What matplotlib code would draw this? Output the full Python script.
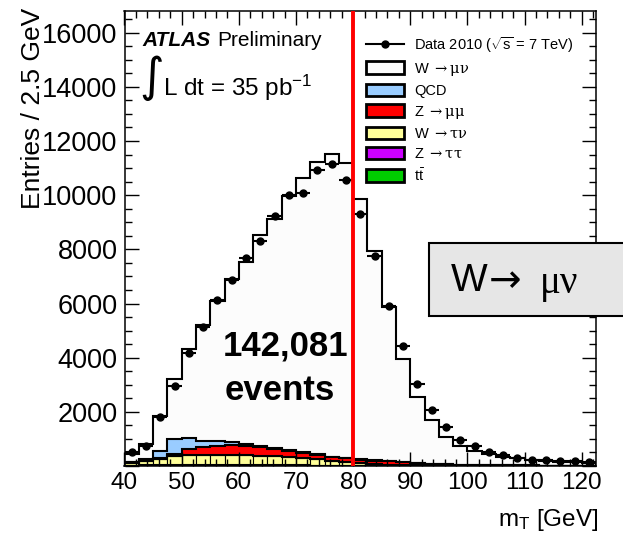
import numpy as np
import matplotlib
matplotlib.use('Agg')
import matplotlib.pyplot as plt
from matplotlib.patches import Patch, Rectangle
from matplotlib.lines import Line2D
from matplotlib.ticker import MultipleLocator

plt.rcParams['font.family'] = ['Liberation Sans', 'DejaVu Sans']
plt.rcParams['mathtext.fontset'] = 'custom'
plt.rcParams['mathtext.rm'] = 'DejaVu Serif'
plt.rcParams['mathtext.sf'] = 'Liberation Sans'
plt.rcParams['mathtext.default'] = 'rm'

# 2.5 GeV bins, 40 -> 122.5 GeV
bin_low = 40.0
bin_width = 2.5

data = [500, 750, 1816, 2958, 4187, 5144, 6126, 6862, 7685, 8298, 9244,
        10018, 10080, 10913, 11149, 10570, 9318, 7771, 5904, 4431, 3020,
        2050, 1425, 969, 730, 504, 420, 310, 240, 230, 200, 185, 136]
w_munu = [270, 540, 1289, 2236, 3278, 4260, 5180, 6042, 6714, 7760, 8442,
          9365, 10127, 10767, 11152, 10880, 9620, 7743, 5688, 3793, 2413,
          1620, 994, 702, 522, 398, 313, 259, 212, 175, 148, 120, 102]
qcd = [25, 50, 276, 560, 405, 222, 160, 98, 62, 59, 54, 50, 39, 35, 30, 22,
       18, 12, 10, 8, 6, 5, 4, 3, 3, 2, 2, 2, 1, 1, 1, 1, 1]
z_mumu = [20, 25, 30, 50, 225, 300, 340, 365, 355, 310, 265, 210, 175, 165,
          130, 140, 130, 130, 125, 110, 90, 65, 50, 38, 28, 24, 20, 16, 14,
          12, 10, 8, 6]
w_taunu = [100, 160, 230, 350, 365, 375, 375, 375, 365, 355, 335, 305, 270,
           225, 175, 125, 90, 60, 40, 28, 18, 14, 9, 7, 6, 4, 3, 2, 2, 1, 1,
           1, 1]
z_tautau = [15, 20, 25, 30, 30, 30, 28, 26, 24, 22, 20, 18, 15, 12, 10, 8, 6,
            5, 4, 3, 3, 2, 2, 2, 1, 1, 1, 1, 1, 1, 1, 1, 0]
ttbar = [2, 2, 3, 3, 4, 4, 5, 5, 5, 5, 5, 5, 5, 5, 5, 5, 5, 5, 4, 4, 4, 4, 4,
         3, 3, 3, 3, 3, 2, 2, 2, 2, 2]
mt_cut = 80

labels = [r'Data 2010 ($\sqrt{\mathsf{s}}$ = 7 TeV)', r'W $\rightarrow \mu\nu$',
          'QCD', r'Z $\rightarrow \mu\mu$', r'W $\rightarrow \tau\nu$',
          r'Z $\rightarrow \tau\tau$', r'$\mathsf{t\bar{t}}$']

n_bins = len(data)
edges = bin_low + bin_width * np.arange(n_bins + 1)
centers = 0.5 * (edges[:-1] + edges[1:])

# stack order bottom -> top
stack = [ttbar, z_tautau, w_taunu, z_mumu, qcd, w_munu]
colors = ['#00cc00', '#cc00ff', '#ffff99', '#ff0000', '#99ccff', '#fcfcfc']
cumul = np.cumsum(np.array(stack, dtype=float), axis=0)

W, H = 623, 537
def fx(x):
    return x / W
def fy(y):
    return 1 - y / H

fig = plt.figure(figsize=(W / 100, H / 100), dpi=100)
ax = fig.add_axes([fx(124.5), fy(466), (596 - 124.5) / W, (466 - 11) / H])

# ROOT-like stack: biggest cumulative first, each drawn from zero
for i in range(len(stack) - 1, -1, -1):
    if i == 2:
        ax.bar(centers, cumul[i], width=bin_width, color=colors[i],
               edgecolor='k', lw=0.8)
    else:
        ax.stairs(cumul[i], edges, baseline=0, fill=True,
                  facecolor=colors[i], edgecolor='none')
    ax.stairs(cumul[i], edges, baseline=0, color='k', lw=1.5)

ax.errorbar(centers, data, xerr=bin_width / 2, yerr=np.sqrt(data), fmt='o',
            color='k', ms=5, elinewidth=1.5, capsize=0, zorder=5)
ax.axvline(mt_cut, color='red', lw=2.8, zorder=6)

ax.set_xlim(edges[0], edges[-1])
ax.set_ylim(0, 16800)
ax.set_xticks(np.arange(40, 121, 10))
ax.xaxis.set_minor_locator(MultipleLocator(2))
yt = np.arange(0, 16001, 2000)
ax.set_yticks(yt)
ax.set_yticklabels([''] + [str(v) for v in yt[1:]])
ax.yaxis.set_minor_locator(MultipleLocator(500))
ax.tick_params(which='both', direction='in', top=True, right=True, width=1)
ax.tick_params(which='major', length=10)
ax.tick_params(which='minor', length=5)
ax.tick_params(axis='x', labelsize=17.5, pad=4)
ax.tick_params(axis='y', labelsize=19.5, pad=5)
for s in ax.spines.values():
    s.set_linewidth(1.1)

handles = [Line2D([], [], color='k', marker='o', ms=5, lw=1.5)]
for c in colors[::-1]:
    handles.append(Patch(facecolor=c, edgecolor='k', lw=2))
ax.legend(handles, labels, loc='upper left', bbox_to_anchor=(fx(366), fy(35)),
          bbox_transform=fig.transFigure, frameon=False, fontsize=10.5,
          handlelength=2.6, handleheight=0.95, handletextpad=0.7,
          labelspacing=0.4, borderpad=0, borderaxespad=0)

# labels
fig.text(fx(33), fy(8), 'Entries / 2.5 GeV', rotation=90, ha='center',
         va='top', fontsize=19)
fig.text(fx(598), fy(520), r'm$_{\mathsf{T}}$ [GeV]', ha='right', va='center',
         fontsize=17.5)

fig.text(fx(142), fy(40), 'ATLAS', fontsize=15, fontweight='bold',
         fontstyle='italic', va='center')
fig.text(fx(217), fy(40), 'Preliminary', fontsize=15, va='center')
fig.text(fx(139), fy(78), '\u222b', fontsize=34, va='center',
         family='DejaVu Sans')
fig.text(fx(163), fy(88), r'L dt = 35 pb$^{\mathsf{-1}}$', fontsize=17.5,
         va='center')

fig.text(fx(286), fy(346), '142,081', fontsize=25, fontweight='bold',
         ha='center', va='center')
fig.text(fx(280), fy(390), 'events', fontsize=25, fontweight='bold',
         ha='center', va='center')

box = Rectangle((fx(429), fy(316)), (W - 429 + 10) / W, 73 / H,
                transform=fig.transFigure, facecolor='#e6e6e6',
                edgecolor='k', lw=1.5, clip_on=False)
fig.add_artist(box)
fig.text(fx(451), fy(281), 'W', fontsize=28, va='center')
fig.text(fx(489), fy(281), '\u2192', fontsize=28, va='center',
         family='DejaVu Sans')
fig.text(fx(540), fy(283), '\u03bc\u03bd', fontsize=28, va='center',
         family='Liberation Serif')

fig.savefig('out.png', dpi=100)
